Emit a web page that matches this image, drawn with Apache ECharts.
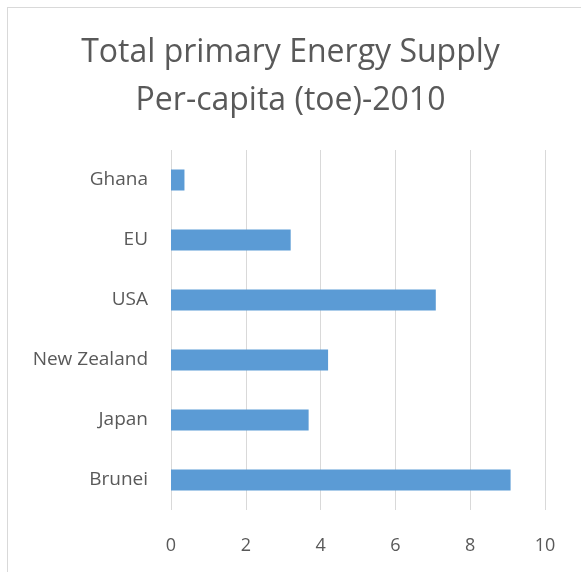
<!DOCTYPE html>
<html>
<head>
<meta charset="utf-8">
<script src="https://cdn.jsdelivr.net/npm/echarts@6/dist/echarts.min.js"></script>
<style>
html,body{margin:0;padding:0;background:#fff;overflow:hidden;}
#frame{position:absolute;left:7px;top:7px;width:700px;height:700px;border:1px solid #d9d9d9;box-sizing:border-box;}
#chart{position:absolute;left:0;top:0;width:581px;height:572px;}
</style>
</head>
<body>
<div id="frame"></div>
<div id="chart"></div>
<script>
const titleLines = ['Total primary Energy Supply', 'Per-capita (toe)-2010'];
const categories = ['Brunei', 'Japan', 'New Zealand', 'USA', 'EU', 'Ghana'];
const values = [9.08, 3.68, 4.2, 7.08, 3.2, 0.36];
const xMin = 0, xMax = 10, xStep = 2;

const chart = echarts.init(document.getElementById('chart'));
chart.setOption({
  backgroundColor: 'transparent',
  animation: false,
  title: {
    text: titleLines.join('\n'),
    left: 'center',
    top: 24,
    textStyle: {
      fontFamily: 'Open Sans',
      fontSize: 32,
      fontWeight: 'normal',
      color: '#595959',
      lineHeight: 48
    }
  },
  grid: { left: 171, right: 36, top: 150, height: 360, containLabel: false },
  xAxis: {
    type: 'value',
    min: xMin, max: xMax, interval: xStep,
    axisLine: { show: false },
    axisTick: { show: false },
    splitLine: { show: true, lineStyle: { color: '#d9d9d9', width: 1 } },
    axisLabel: { color: '#595959', fontSize: 18, fontFamily: 'Open Sans', margin: 27 }
  },
  yAxis: {
    type: 'category',
    data: categories,
    axisLine: { show: false },
    axisTick: { show: false },
    axisLabel: { color: '#595959', fontSize: 19, fontFamily: 'Open Sans', margin: 23 }
  },
  series: [{
    type: 'bar',
    data: values,
    barWidth: '35%',
    itemStyle: { color: '#5b9bd5' }
  }]
});
</script>
</body>
</html>
